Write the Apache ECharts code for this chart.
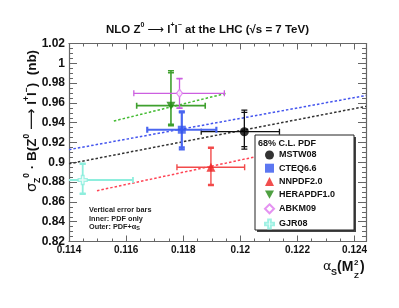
<!DOCTYPE html>
<html><head><meta charset="utf-8">
<script src="https://cdn.jsdelivr.net/npm/echarts@6/dist/echarts.min.js"></script>
<style>html,body{margin:0;padding:0;background:#fff}#c{width:399px;height:308px}</style>
</head><body><div id="c"></div>
<script>
// ---- data ----
const pdfNames = ['MSTW08', 'CTEQ6.6', 'NNPDF2.0', 'HERAPDF1.0', 'ABKM09', 'GJR08'];
const alphaS   = [0.12014, 0.11795, 0.11897, 0.11757, 0.11787, 0.11448];
const sigma    = [0.9309, 0.9329, 0.8950, 0.9572, 0.9697, 0.8821];
const alphaLo  = [0.11863, 0.11674, 0.11778, 0.11637, 0.11627, 0.11272];
const alphaHi  = [0.12137, 0.11916, 0.12015, 0.11877, 0.11944, 0.11624];
const innerLo  = [0.9158, 0.9150, 0.8776, 0.9385, 0.9550, 0.8685];
const innerHi  = [0.9505, 0.9505, 0.9142, 0.9905, 0.9842, 0.8982];
const outerLo  = [0.9134, 0.9131, 0.8764, 0.9370, 0.9545, 0.8680];
const outerHi  = [0.9528, 0.9515, 0.9152, 0.9925, 0.9848, 0.8988];

const trendNames      = ['MSTW08', 'CTEQ6.6', 'NNPDF2.0', 'HERAPDF1.0'];
const trendAlphaStart = [0.1140, 0.1140, 0.11498, 0.11557];
const trendAlphaEnd   = [0.1244, 0.1244, 0.1206, 0.11951];
const trendSigmaStart = [0.8985, 0.9128, 0.8713, 0.9417];
const trendSigmaEnd   = [0.9565, 0.9675, 0.9060, 0.9697];

const xTicks = [0.114, 0.116, 0.118, 0.12, 0.122, 0.124];
const yTicks = [0.82, 0.84, 0.86, 0.88, 0.9, 0.92, 0.94, 0.96, 0.98, 1, 1.02];

// ---- styles ----
const markColors = ['#000000', '#3355ee', '#ee2222', '#228811', '#dd77ee', '#88eedd'];
const barColors  = ['#111111', '#4a66f0', '#f24a4a', '#3fa02e', '#cc5fe0', '#8eeedd'];
const barWidths  = [1.3, 2.2, 1.4, 1.6, 1.3, 1.8];
const trendColors = ['#333333', '#4455ee', '#ff4455', '#44bb33'];
const symbols = ['circle', 'rect', 'triangle', 'path://M0,0L10,0L5,9Z', 'diamond',
  'path://M3.5,0H6.5V3.5H10V6.5H6.5V10H3.5V6.5H0V3.5H3.5Z'];
const symSizes = [9, 8, 9, [9, 8], [6, 8], 9];
const hollow = [false, false, false, false, true, true];

const chart = echarts.init(document.getElementById('c'), null, {renderer: 'canvas'});

function errRender(color, width) {
  return function (params, api) {
    const x = api.value(0), y = api.value(1);
    const pL = api.coord([api.value(2), y]);
    const pR = api.coord([api.value(3), y]);
    const pIL = api.coord([x, api.value(4)]);
    const pIH = api.coord([x, api.value(5)]);
    const pOL = api.coord([x, api.value(6)]);
    const pOH = api.coord([x, api.value(7)]);
    const c = 3;
    const st = {stroke: color, lineWidth: width};
    const L = (x1, y1, x2, y2) => ({type: 'line', shape: {x1, y1, x2, y2}, style: st});
    return {type: 'group', children: [
      L(pL[0], pL[1], pR[0], pR[1]),
      L(pL[0], pL[1] - c, pL[0], pL[1] + c),
      L(pR[0], pR[1] - c, pR[0], pR[1] + c),
      L(pOL[0], pOL[1], pOH[0], pOH[1]),
      L(pOL[0] - c, pOL[1], pOL[0] + c, pOL[1]),
      L(pOH[0] - c, pOH[1], pOH[0] + c, pOH[1]),
      L(pIL[0] - c, pIL[1], pIL[0] + c, pIL[1]),
      L(pIH[0] - c, pIH[1], pIH[0] + c, pIH[1])
    ]};
  };
}

const series = [];
trendNames.forEach((n, i) => {
  series.push({
    name: n + ' trend', type: 'line', xAxisIndex: 0, yAxisIndex: 0,
    data: [[trendAlphaStart[i], trendSigmaStart[i]], [trendAlphaEnd[i], trendSigmaEnd[i]]],
    symbol: 'none', silent: true, z: 2,
    lineStyle: {color: trendColors[i], width: 1.5, type: [2.5, 2]}
  });
});
pdfNames.forEach((n, i) => {
  series.push({
    name: n + ' err', type: 'custom', xAxisIndex: 0, yAxisIndex: 0, clip: true, z: 3,
    renderItem: errRender(barColors[i], barWidths[i]),
    data: [[alphaS[i], sigma[i], alphaLo[i], alphaHi[i], innerLo[i], innerHi[i], outerLo[i], outerHi[i]]]
  });
});
pdfNames.forEach((n, i) => {
  series.push({
    name: n, type: 'scatter', xAxisIndex: 0, yAxisIndex: 0, z: 4,
    symbol: symbols[i], symbolSize: symSizes[i],
    itemStyle: hollow[i]
      ? {color: '#ffffff', borderColor: markColors[i], borderWidth: 1.3}
      : {color: markColors[i]},
    data: [[alphaS[i], sigma[i]]]
  });
});

const axisCol = '#666';
const xBase = {
  type: 'value', min: 0.114, max: 0.1244, interval: 0.002,
  axisLine: {show: true, lineStyle: {color: axisCol, width: 1.2}},
  axisTick: {show: true, inside: true, length: 6, lineStyle: {color: axisCol}},
  minorTick: {show: true, splitNumber: 4, length: 3, lineStyle: {color: axisCol}},
  splitLine: {show: false}
};
const yBase = {
  type: 'value', min: 0.82, max: 1.02, interval: 0.02,
  axisLine: {show: true, lineStyle: {color: axisCol, width: 1.2}},
  axisTick: {show: true, inside: true, length: 8, lineStyle: {color: axisCol}},
  minorTick: {show: true, splitNumber: 4, length: 4, lineStyle: {color: axisCol}},
  splitLine: {show: false}
};

const bold = {fontFamily: 'Liberation Sans', fontWeight: 'bold', fill: '#111'};

chart.setOption({
  animation: false,
  backgroundColor: '#ffffff',
  grid: {left: 69, right: 33, top: 43.5, bottom: 66.5, containLabel: false},
  xAxis: [
    Object.assign({}, xBase, {position: 'bottom',
      axisLabel: {show: true, margin: 4, fontFamily: 'Liberation Sans', fontWeight: 'bold', fontSize: 10, color: '#111',
        showMaxLabel: false,
        formatter: v => { const t = xTicks.find(k => Math.abs(k - v) < 1e-7); return t === undefined ? '' : String(t); }}}),
    Object.assign({}, xBase, {position: 'top', axisLabel: {show: false}})
  ],
  yAxis: [
    Object.assign({}, yBase, {position: 'left',
      axisLabel: {show: true, margin: 4, fontFamily: 'Liberation Sans', fontWeight: 'bold', fontSize: 12, color: '#111',
        formatter: v => { const t = yTicks.find(k => Math.abs(k - v) < 1e-7); return t === undefined ? '' : String(t); }}}),
    Object.assign({}, yBase, {position: 'right', axisLabel: {show: false}})
  ],
  legend: {
    data: pdfNames, orient: 'vertical', left: 264, top: 150.5, z: 120, padding: 0,
    itemWidth: 9, itemHeight: 9, itemGap: 4.2, selectedMode: false,
    textStyle: {fontFamily: 'Liberation Sans', fontWeight: 'bold', fontSize: 9, color: '#111', lineHeight: 9}
  },
  graphic: [
    {type: 'text', x: 207.5, y: 30, z: 100, style: Object.assign({}, bold, {
      text: 'NLO Z{sup|0} {arr|⟶} l{sup|+}l{sup|−} at the LHC (√s = 7 TeV)',
      fontSize: 11.5, lineHeight: 16, align: 'center', verticalAlign: 'middle',
      rich: {sup: {fontSize: 7, fontWeight: 'bold', fontFamily: 'Liberation Sans', verticalAlign: 'top'},
             arr: {fontSize: 11.5, fontFamily: 'DejaVu Sans', fontWeight: 'normal'}}})},
    {type: 'text', x: 32, y: 121, rotation: Math.PI / 2, z: 100, style: Object.assign({}, bold, {
      text: '{g|σ}{sub|Z}{sup|0} · B(Z{sup|0} {arr|⟶} l{sup|+}l{sup|−})  (nb)',
      fontSize: 13.5, lineHeight: 20, align: 'center', verticalAlign: 'middle',
      rich: {sup: {fontSize: 8.5, fontWeight: 'bold', fontFamily: 'Liberation Sans', verticalAlign: 'top'},
             sub: {fontSize: 8.5, fontWeight: 'bold', fontFamily: 'Liberation Sans', verticalAlign: 'bottom'},
             g: {fontSize: 14.5, fontWeight: 'normal', fontFamily: 'DejaVu Sans'},
             arr: {fontSize: 15, fontFamily: 'DejaVu Sans', fontWeight: 'normal'}}})},
    {type: 'text', x: 323, y: 267, z: 100, style: {text: 'α', fontFamily: 'DejaVu Sans', fontSize: 13, fill: '#111', verticalAlign: 'middle'}},
    {type: 'text', x: 331, y: 273, z: 100, style: Object.assign({}, bold, {text: 'S', fontSize: 9, verticalAlign: 'middle'})},
    {type: 'text', x: 337, y: 267, z: 100, style: Object.assign({}, bold, {text: '(M', fontSize: 14, verticalAlign: 'middle'})},
    {type: 'text', x: 354, y: 262.5, z: 100, style: Object.assign({}, bold, {text: '2', fontSize: 8, verticalAlign: 'middle'})},
    {type: 'text', x: 354, y: 276, z: 100, style: Object.assign({}, bold, {text: 'Z', fontSize: 8, verticalAlign: 'middle'})},
    {type: 'text', x: 360, y: 267, z: 100, style: Object.assign({}, bold, {text: ')', fontSize: 14, verticalAlign: 'middle'})},
    {type: 'text', x: 89, y: 210, z: 100, style: Object.assign({}, bold, {text: 'Vertical error bars', fontSize: 7.3, verticalAlign: 'middle', fill: '#222'})},
    {type: 'text', x: 89, y: 218.5, z: 100, style: Object.assign({}, bold, {text: 'Inner: PDF only', fontSize: 7.3, verticalAlign: 'middle', fill: '#222'})},
    {type: 'text', x: 89, y: 226.5, z: 100, style: Object.assign({}, bold, {text: 'Outer: PDF+α{sub|S}', fontSize: 7.3, lineHeight: 10, verticalAlign: 'middle', fill: '#222',
      rich: {sub: {fontSize: 5.5, fontWeight: 'bold', fontFamily: 'Liberation Sans', verticalAlign: 'bottom'}}})},
    {type: 'rect', z: 99, shape: {x: 257, y: 137, width: 99, height: 95}, style: {fill: '#444'}},
    {type: 'rect', z: 100, shape: {x: 255, y: 135, width: 99, height: 95}, style: {fill: '#fff', stroke: '#222', lineWidth: 1}},
    {type: 'text', x: 258, y: 144, z: 101, style: Object.assign({}, bold, {text: '68% C.L. PDF', fontSize: 9, verticalAlign: 'middle'})}
  ],
  series: series
});
</script></body></html>
